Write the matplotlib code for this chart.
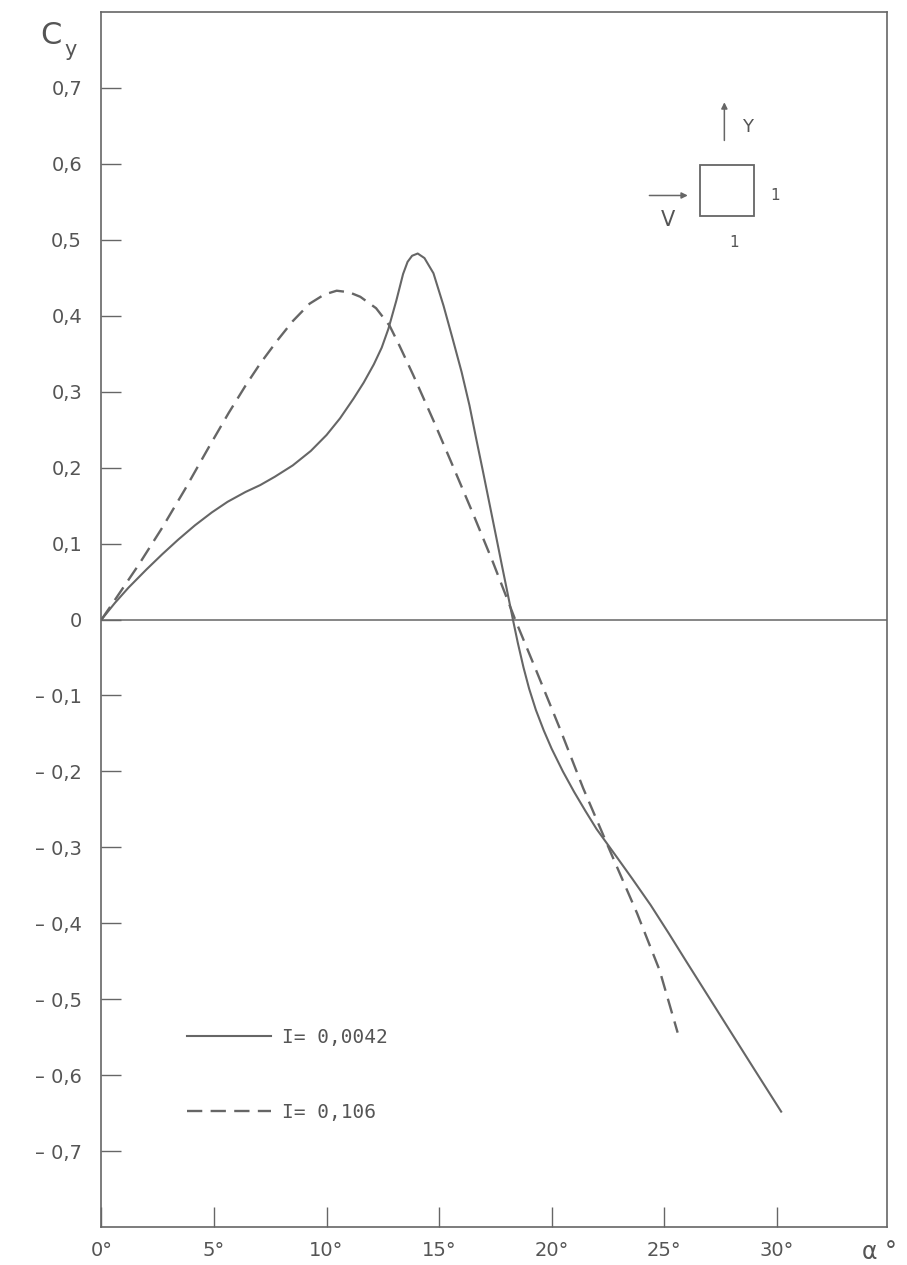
import matplotlib
matplotlib.use('Agg')
import matplotlib.pyplot as plt
from matplotlib.patches import Rectangle

plt.rcParams['lines.scale_dashes'] = False

# I = 0,0042 (solid)
alpha_a = [0, 0.6, 1.2, 2.0, 2.7, 3.4, 4.15, 4.9, 5.6, 6.4, 7.05, 7.7, 8.5, 9.3,
           10.0, 10.6, 11.2, 11.65, 12.1, 12.45, 12.75, 13.1, 13.4, 13.6, 13.8,
           14.05, 14.35, 14.75, 15.2, 15.6, 16.0, 16.35, 16.65, 16.95, 17.25,
           17.55, 17.8, 18.0, 18.28, 18.5, 18.75, 19.0, 19.3, 19.65, 20.0, 20.5,
           21.0, 21.5, 22.0, 22.9, 23.6, 24.4, 25.2, 26.0, 27.0, 28.0, 29.0, 30.2]
cy_a = [0, 0.022, 0.042, 0.066, 0.086, 0.105, 0.124, 0.141, 0.155, 0.168, 0.177,
        0.188, 0.203, 0.222, 0.243, 0.265, 0.291, 0.312, 0.336, 0.358, 0.383,
        0.420, 0.455, 0.471, 0.479, 0.482, 0.476, 0.456, 0.413, 0.370, 0.326,
        0.282, 0.238, 0.195, 0.151, 0.107, 0.070, 0.041, 0.0, -0.031, -0.063,
        -0.091, -0.119, -0.146, -0.170, -0.200, -0.227, -0.252, -0.276, -0.313,
        -0.342, -0.376, -0.413, -0.451, -0.498, -0.545, -0.592, -0.648]

# I = 0,106 (dashed)
alpha_b = [0, 0.6, 1.65, 2.7, 3.7, 4.75, 5.65, 6.4, 7.05, 7.8, 8.5, 9.25, 9.9,
           10.45, 11.0, 11.5, 12.2, 12.8, 13.25, 13.85, 14.75, 15.6, 16.5, 17.4,
           18.38, 19.3, 20.4, 21.4, 22.6, 23.8, 24.8, 25.6]
cy_b = [0, 0.026, 0.072, 0.121, 0.171, 0.226, 0.272, 0.308, 0.337, 0.367, 0.393,
        0.416, 0.428, 0.433, 0.431, 0.425, 0.410, 0.387, 0.360, 0.322, 0.262,
        0.203, 0.140, 0.075, 0.0, -0.066, -0.146, -0.222, -0.305, -0.387,
        -0.462, -0.544]

labels = ['I= 0,0042', 'I= 0,106']

xticks = [0, 5, 10, 15, 20, 25, 30]
xticklabels = ['0°', '5°', '10°', '15°', '20°', '25°', '30°']
yticks = [0.7, 0.6, 0.5, 0.4, 0.3, 0.2, 0.1, 0, -0.1, -0.2, -0.3, -0.4, -0.5, -0.6, -0.7]
yticklabels = ['0,7', '0,6', '0,5', '0,4', '0,3', '0,2', '0,1', '0',
               '– 0,1', '– 0,2', '– 0,3', '– 0,4', '– 0,5', '– 0,6', '– 0,7']

ink = '#666666'
txt = '#555555'

fig = plt.figure(figsize=(9.07, 12.65), dpi=100)
ax = fig.add_axes([0.1119, 0.030, 0.866, 0.9605])

ax.plot(alpha_a, cy_a, color=ink, lw=1.5, label=labels[0])
ax.plot(alpha_b, cy_b, color=ink, lw=1.7, dashes=(11, 6), label=labels[1])
ax.axhline(0, color=ink, lw=1.1)

ax.set_xlim(0, 34.9)
ax.set_ylim(-0.8, 0.8)
ax.set_xticks(xticks)
ax.set_xticklabels(xticklabels)
ax.set_yticks(yticks)
ax.set_yticklabels(yticklabels)
ax.tick_params(direction='in', length=14.5, width=1.0, color=ink,
               labelsize=14, labelcolor=txt)
ax.tick_params(axis='y', pad=14)
ax.tick_params(axis='x', pad=10)
for s in ax.spines.values():
    s.set_color(ink)
    s.set_linewidth(1.2)

ax.legend(loc='upper left', bbox_to_anchor=(0.109, 0.164), frameon=False,
          handlelength=4.3, handletextpad=0.6, labelspacing=2.9,
          borderpad=0, borderaxespad=0,
          prop={'size': 14, 'family': 'DejaVu Sans Mono'}, labelcolor=txt)

# axis titles
fig.text(40 / 907, 1 - 36 / 1265, 'C', fontsize=22, color=txt, ha='left', va='center')
fig.text(64 / 907, 1 - 50 / 1265, 'y', fontsize=15, color=txt, ha='left', va='center')
fig.text(862 / 907, 1 - 1252 / 1265, 'α °', fontsize=17, color=txt, ha='left', va='center')

# sketch of the section
ax.add_patch(Rectangle((0.762, 0.832), 0.069, 0.042, transform=ax.transAxes,
                       fill=False, edgecolor=ink, lw=1.3))
ax.annotate('', xy=(0.793, 0.928), xytext=(0.793, 0.892), xycoords='axes fraction',
            arrowprops=dict(arrowstyle='-|>', color=ink, lw=1.1, mutation_scale=9))
ax.annotate('', xy=(0.750, 0.849), xytext=(0.694, 0.849), xycoords='axes fraction',
            arrowprops=dict(arrowstyle='-|>', color=ink, lw=1.1, mutation_scale=9))
ax.text(0.822, 0.905, 'Y', transform=ax.transAxes, fontsize=13, color=txt, ha='center', va='center')
ax.text(0.721, 0.829, 'V', transform=ax.transAxes, fontsize=15, color=txt, ha='center', va='center')
ax.text(0.857, 0.849, '1', transform=ax.transAxes, fontsize=11, color=txt, ha='center', va='center')
ax.text(0.806, 0.810, '1', transform=ax.transAxes, fontsize=11, color=txt, ha='center', va='center')

fig.savefig('out.png', dpi=100)
